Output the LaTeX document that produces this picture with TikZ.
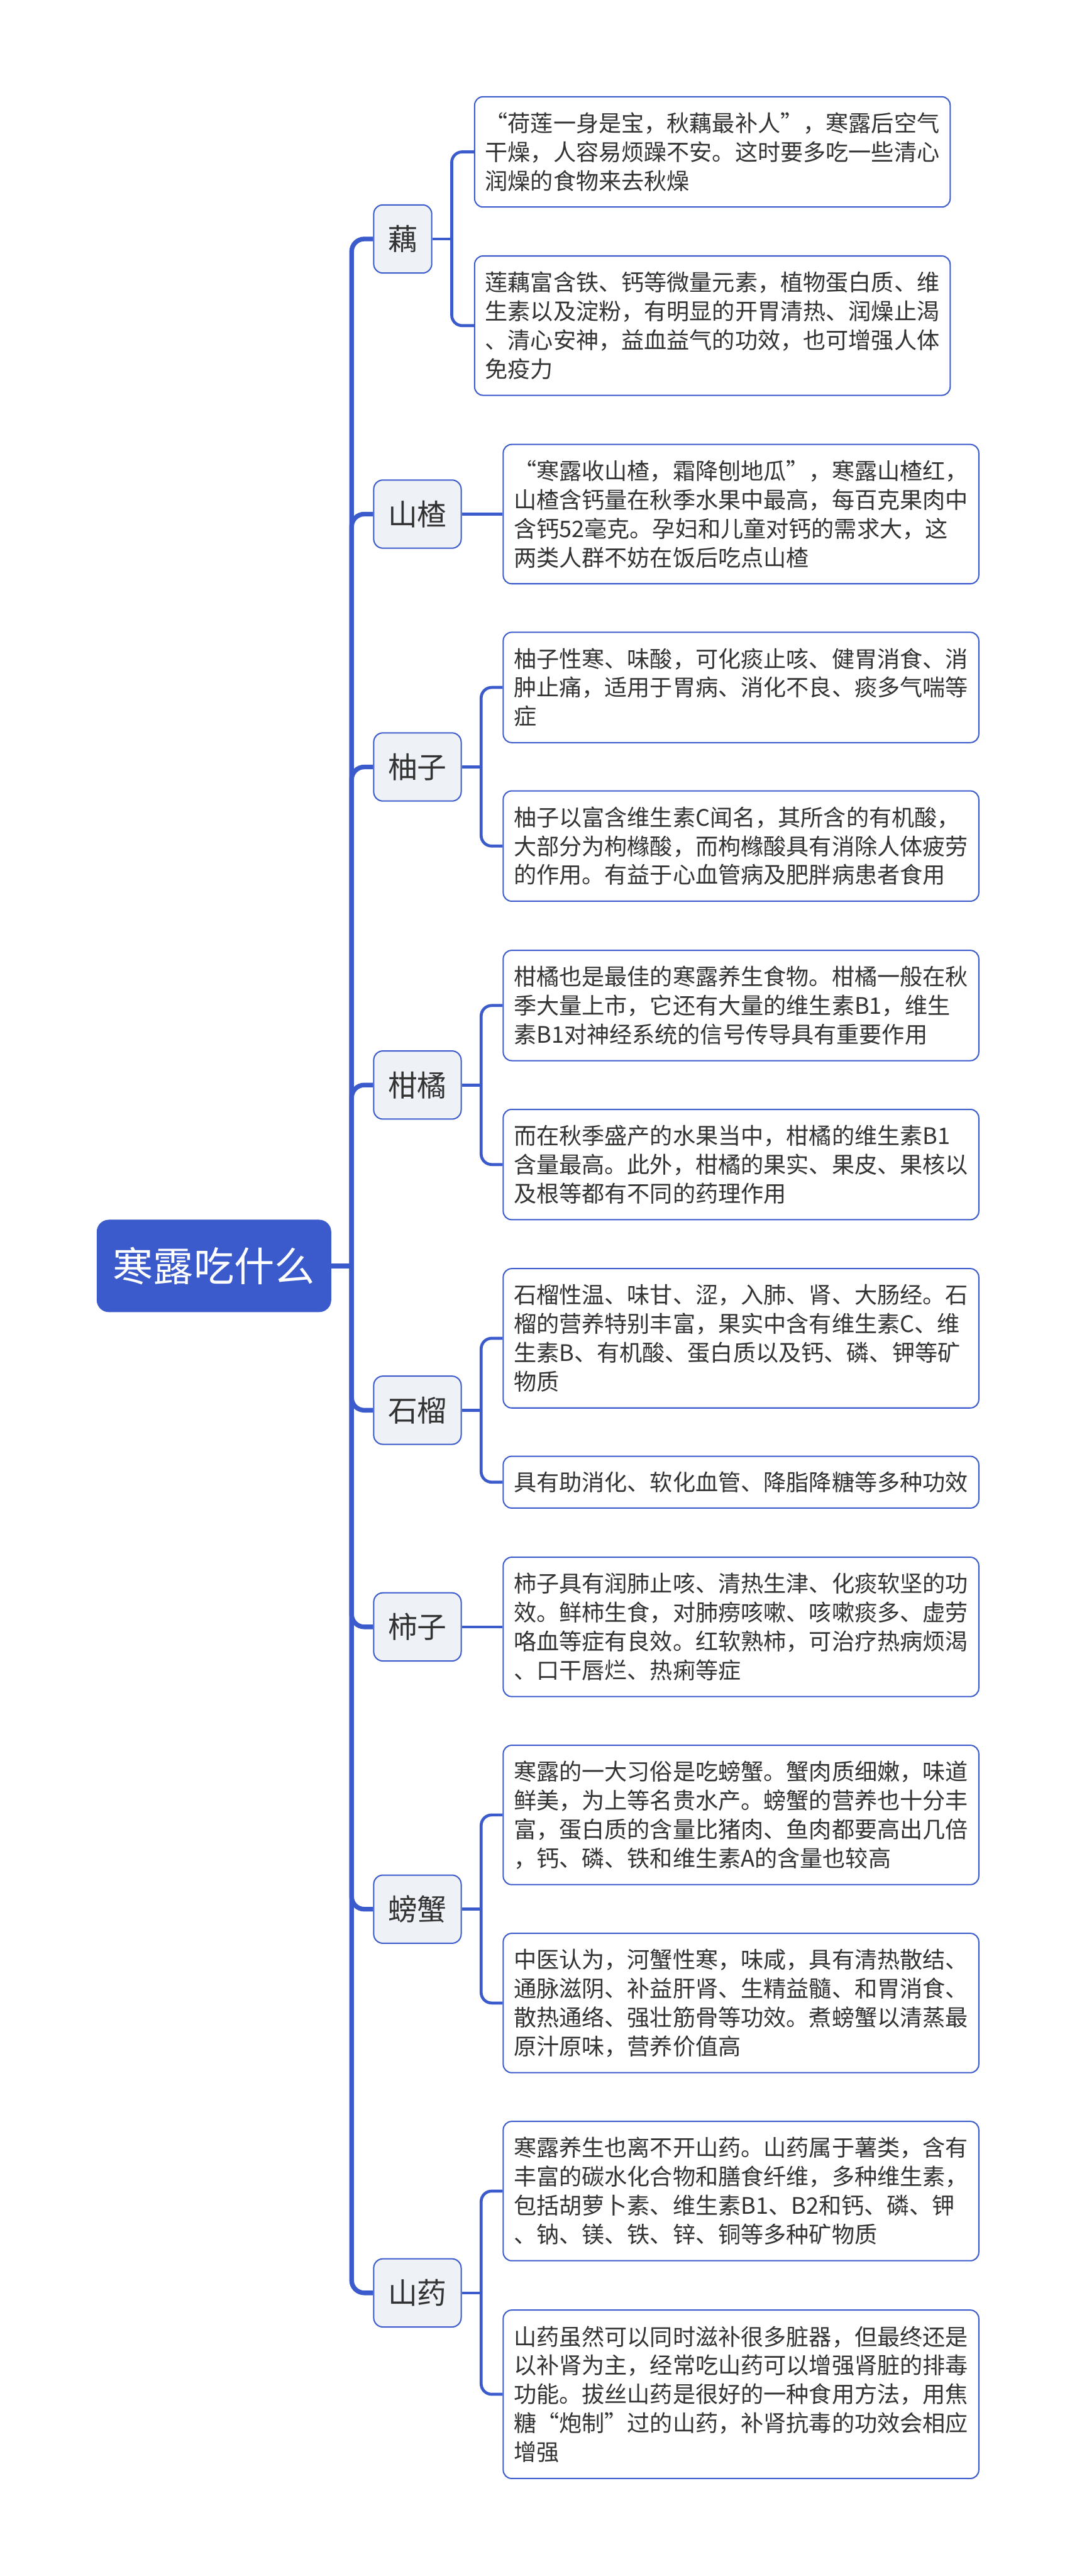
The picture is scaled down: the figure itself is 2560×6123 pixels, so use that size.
\documentclass[tikz,border=0pt]{standalone}
\usepackage{fontspec}
\setmainfont{Noto Sans CJK SC}
\definecolor{mapblue}{HTML}{3B5BCC}
\definecolor{topicbg}{HTML}{EEF1F6}
\definecolor{inktext}{HTML}{333333}
\begin{document}
\begin{tikzpicture}[x=0.01cm,y=-0.01cm,
        rootbox/.style={fill=mapblue,draw=mapblue,rounded corners=0.28cm,text=white,font=\fontsize{27.3}{33}\selectfont,minimum height=2.18cm,inner xsep=0.38cm,anchor=west},
        topicbox/.style={fill=topicbg,draw=mapblue,line width=0.03cm,rounded corners=0.22cm,text=inktext,font=\fontsize{19.9}{24}\selectfont,minimum height=1.62cm,inner xsep=0.34cm,anchor=west},
        notebox/.style={fill=white,draw=mapblue,line width=0.03cm,rounded corners=0.2cm,text=inktext,font=\fontsize{15.36}{19.5}\selectfont,text width=10.8cm,align=left,inner xsep=0.25cm,inner ysep=0pt,minimum height=#1,anchor=west},
        trunk/.style={draw=mapblue,line width=0.11cm,rounded corners=0.3cm},
        twig/.style={draw=mapblue,line width=0.07cm,rounded corners=0.25cm}]
                \fill[white] (0,0) rectangle (2560,6123);
                \useasboundingbox (0,0) rectangle (2560,6123);
                \node[rootbox] (root) at (230,3009) {寒露吃什么};
                \coordinate (hub) at (836,3009);
                \node[topicbox] (ou) at (887,568) {藕};
                \node[topicbox] (shanzha) at (887,1222) {山楂};
                \node[topicbox] (youzi) at (887,1823) {柚子};
                \node[topicbox] (ganju) at (887,2579) {柑橘};
                \node[topicbox] (shiliu) at (887,3352) {石榴};
                \node[topicbox] (shizi) at (887,3867) {柿子};
                \node[topicbox] (pangxie) at (887,4538) {螃蟹};
                \node[topicbox] (shanyao) at (887,5450) {山药};
                \node[notebox=2.62cm] (ou1) at (1127,361) {“荷莲一身是宝，秋藕最补人”，寒露后空气\\干燥，人容易烦躁不安。这时要多吃一些清心\\润燥的食物来去秋燥};
                \node[notebox=3.31cm] (ou2) at (1127,774) {莲藕富含铁、钙等微量元素，植物蛋白质、维\\生素以及淀粉，有明显的开胃清热、润燥止渴\\、清心安神，益血益气的功效，也可增强人体\\免疫力};
                \node[notebox=3.31cm] (shanzha1) at (1195,1222) {“寒露收山楂，霜降刨地瓜”，寒露山楂红，\\山楂含钙量在秋季水果中最高，每百克果肉中\\含钙52毫克。孕妇和儿童对钙的需求大，这\\两类人群不妨在饭后吃点山楂};
                \node[notebox=2.62cm] (youzi1) at (1195,1634) {柚子性寒、味酸，可化痰止咳、健胃消食、消\\肿止痛，适用于胃病、消化不良、痰多气喘等\\症};
                \node[notebox=2.62cm] (youzi2) at (1195,2011) {柚子以富含维生素C闻名，其所含的有机酸，\\大部分为枸橼酸，而枸橼酸具有消除人体疲劳\\的作用。有益于心血管病及肥胖病患者食用};
                \node[notebox=2.62cm] (ganju1) at (1195,2390) {柑橘也是最佳的寒露养生食物。柑橘一般在秋\\季大量上市，它还有大量的维生素B1，维生\\素B1对神经系统的信号传导具有重要作用};
                \node[notebox=2.62cm] (ganju2) at (1195,2768) {而在秋季盛产的水果当中，柑橘的维生素B1\\含量最高。此外，柑橘的果实、果皮、果核以\\及根等都有不同的药理作用};
                \node[notebox=3.31cm] (shiliu1) at (1195,3181) {石榴性温、味甘、涩，入肺、肾、大肠经。石\\榴的营养特别丰富，果实中含有维生素C、维\\生素B、有机酸、蛋白质以及钙、磷、钾等矿\\物质};
                \node[notebox=1.23cm] (shiliu2) at (1195,3523) {具有助消化、软化血管、降脂降糖等多种功效};
                \node[notebox=3.31cm] (shizi1) at (1195,3867) {柿子具有润肺止咳、清热生津、化痰软坚的功\\效。鲜柿生食，对肺痨咳嗽、咳嗽痰多、虚劳\\咯血等症有良效。红软熟柿，可治疗热病烦渴\\、口干唇烂、热痢等症};
                \node[notebox=3.31cm] (pangxie1) at (1195,4314) {寒露的一大习俗是吃螃蟹。蟹肉质细嫩，味道\\鲜美，为上等名贵水产。螃蟹的营养也十分丰\\富，蛋白质的含量比猪肉、鱼肉都要高出几倍\\，钙、磷、铁和维生素A的含量也较高};
                \node[notebox=3.31cm] (pangxie2) at (1195,4761) {中医认为，河蟹性寒，味咸，具有清热散结、\\通脉滋阴、补益肝肾、生精益髓、和胃消食、\\散热通络、强壮筋骨等功效。煮螃蟹以清蒸最\\原汁原味，营养价值高};
                \node[notebox=3.31cm] (shanyao1) at (1195,5208) {寒露养生也离不开山药。山药属于薯类，含有\\丰富的碳水化合物和膳食纤维，多种维生素，\\包括胡萝卜素、维生素B1、B2和钙、磷、钾\\、钠、镁、铁、锌、铜等多种矿物质};
                \node[notebox=4.0cm] (shanyao2) at (1195,5691) {山药虽然可以同时滋补很多脏器，但最终还是\\以补肾为主，经常吃山药可以增强肾脏的排毒\\功能。拔丝山药是很好的一种食用方法，用焦\\糖“炮制”过的山药，补肾抗毒的功效会相应\\增强};
                \draw[trunk] (root.east) -- (hub);
                \foreach \t in {ou,shanzha,youzi,ganju,shiliu,shizi,pangxie,shanyao}
                    \draw[trunk] (hub) |- (\t.west);
                \coordinate (ouj) at (1074,568);
                \coordinate (youzij) at (1144,1823);
                \coordinate (ganjuj) at (1144,2579);
                \coordinate (shiliuj) at (1144,3352);
                \coordinate (pangxiej) at (1144,4538);
                \coordinate (shanyaoj) at (1144,5450);
                \draw[twig] (ou.east) -- (ouj);
                \draw[twig] (ou1.west) -| (ouj) |- (ou2.west);
                \draw[twig] (shanzha.east) -- (shanzha1.west);
                \draw[twig] (youzi.east) -- (youzij);
                \draw[twig] (youzi1.west) -| (youzij) |- (youzi2.west);
                \draw[twig] (ganju.east) -- (ganjuj);
                \draw[twig] (ganju1.west) -| (ganjuj) |- (ganju2.west);
                \draw[twig] (shiliu.east) -- (shiliuj);
                \draw[twig] (shiliu1.west) -| (shiliuj) |- (shiliu2.west);
                \draw[twig] (shizi.east) -- (shizi1.west);
                \draw[twig] (pangxie.east) -- (pangxiej);
                \draw[twig] (pangxie1.west) -| (pangxiej) |- (pangxie2.west);
                \draw[twig] (shanyao.east) -- (shanyaoj);
                \draw[twig] (shanyao1.west) -| (shanyaoj) |- (shanyao2.west);
            \end{tikzpicture}
\end{document}
